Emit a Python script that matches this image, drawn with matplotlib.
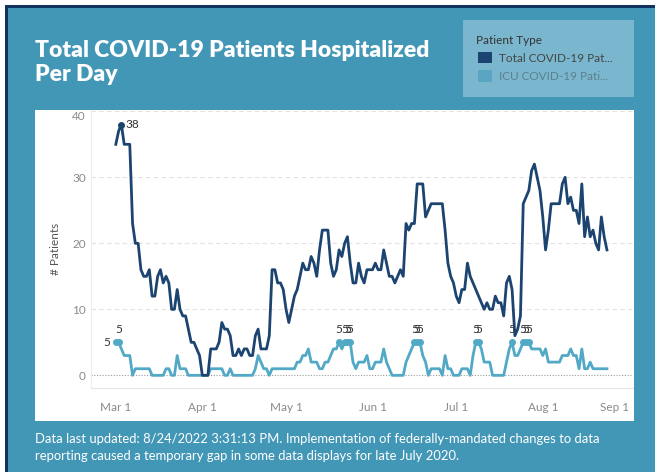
import matplotlib
matplotlib.use("Agg")
import matplotlib.pyplot as plt
from matplotlib.patches import Rectangle
import pandas as pd
import numpy as np

# daily values, Mar 1 - Aug 24
start_date = "2022-03-01"
total_patients = [
    35, 37, 38, 35, 35, 35, 23, 20, 20, 16,
    15, 15, 16, 12, 12, 15, 16, 14, 15, 14,
    10, 10, 13, 10, 9, 9, 7, 5, 5, 4,
    3, 0, 0, 0, 4, 4, 4, 5, 8, 7,
    7, 6, 3, 3, 4, 3, 4, 4, 3, 3,
    6, 7, 4, 4, 4, 6, 16, 16, 14, 14,
    13, 10, 8, 10, 12, 13, 15, 17, 16, 16,
    18, 17, 15, 19, 22, 22, 22, 17, 15, 16,
    19, 18, 20, 21, 17, 14, 14, 17, 15, 14,
    16, 16, 16, 17, 16, 16, 19, 17, 15, 15,
    14, 15, 16, 15, 23, 22, 23, 23, 29, 29,
    29, 24, 25, 26, 26, 26, 26, 26, 22, 17,
    15, 14, 12, 11, 13, 13, 17, 15, 14, 13,
    12, 11, 10, 11, 10, 10, 12, 11, 11, 9,
    14, 15, 13, 6, 7, 9, 26, 27, 28, 31,
    32, 30, 28, 24, 19, 22, 26, 26, 26, 26,
    29, 30, 26, 27, 25, 25, 23, 29, 21, 24,
    21, 22, 20, 19, 24, 21, 19,
]
icu_patients = [
    5, 5, 4, 3, 3, 3, 0, 1, 1, 1,
    1, 1, 1, 0, 0, 0, 0, 0, 1, 1,
    0, 0, 3, 1, 1, 1, 0, 0, 0, 0,
    0, 0, 0, 0, 1, 1, 1, 1, 1, 0,
    0, 1, 0, 0, 0, 0, 0, 0, 0, 0,
    1, 3, 2, 1, 1, 0, 1, 1, 1, 1,
    1, 1, 1, 1, 1, 2, 2, 3, 3, 4,
    2, 2, 2, 1, 1, 2, 2, 3, 4, 4,
    5, 4, 5, 5, 5, 2, 1, 2, 2, 2,
    3, 1, 1, 2, 2, 2, 4, 2, 1, 0,
    0, 0, 0, 0, 2, 3, 4, 5, 5, 5,
    3, 2, 0, 1, 1, 1, 1, 0, 3, 1,
    1, 0, 0, 0, 1, 1, 1, 0, 3, 5,
    5, 4, 2, 2, 2, 0, 0, 0, 0, 0,
    2, 4, 5, 3, 3, 4, 5, 5, 5, 4,
    4, 4, 4, 3, 4, 2, 2, 2, 2, 2,
    3, 3, 3, 4, 3, 3, 1, 4, 1, 1,
    2, 1, 1, 1, 1, 1, 1,
]
series_names = ["Total COVID-19 Pat...", "ICU COVID-19 Pati..."]
month_ticks = ["2022-03-01", "2022-04-01", "2022-05-01", "2022-06-01",
               "2022-07-01", "2022-08-01", "2022-09-01"]
month_labels = ["Mar 1", "Apr 1", "May 1", "Jun 1", "Jul 1", "Aug 1", "Sep 1"]
y_ticks = [0, 10, 20, 30, 40]

dates = pd.date_range(start_date, periods=len(total_patients), freq="D")

W, H = 655, 472
TEAL = "#4397b6"
NAVY = "#1b4470"
ICU_C = "#52a9c6"

plt.rcParams["font.family"] = ["Lato", "DejaVu Sans"]
fig = plt.figure(figsize=(W / 100, H / 100), dpi=100)
fig.patch.set_facecolor("white")

def px_rect(x0, y0, x1, y1, color, z=0):
    # rectangle in pixel coords, y from top
    fig.patches.append(Rectangle((x0 / W, 1 - y1 / H), (x1 - x0) / W, (y1 - y0) / H,
                                 transform=fig.transFigure, facecolor=color,
                                 edgecolor="none", zorder=z))

px_rect(5, 5, 655, 472, "#12325e")        # dark frame
px_rect(8, 8, 655, 472, TEAL)             # teal panel
px_rect(463, 20, 634, 97, "#7ab7ce")      # legend box
px_rect(35, 110, 634, 421, "white")       # chart card

# title + footer
fig.text(35 / W, 1 - 40 / H, "Total COVID-19 Patients Hospitalized\nPer Day",
         color="white", fontsize=16.5, fontweight="heavy", va="top", ha="left",
         linespacing=1.2)
fig.text(35 / W, 1 - 433 / H,
         "Data last updated: 8/24/2022 3:31:13 PM. Implementation of federally-mandated changes to data\n"
         "reporting caused a temporary gap in some data displays for late July 2020.",
         color="white", fontsize=9.4, va="top", ha="left", linespacing=1.5)

# legend
fig.text(476 / W, 1 - 40 / H, "Patient Type", color="#333333", fontsize=8.5, va="center")
px_rect(478, 52, 492, 63, NAVY, z=1)
px_rect(478, 70, 492, 82, "#5aa6c2", z=1)
fig.text(499 / W, 1 - 58 / H, series_names[0], color="#444444", fontsize=8.5, va="center")
fig.text(499 / W, 1 - 77 / H, series_names[1], color="#5d7f8d", fontsize=8.5, va="center")

ax = fig.add_axes([90.7 / W, 1 - 388 / H, (633 - 90.7) / W, (388 - 110) / H])
ax.set_zorder(5)
ax.set_facecolor("white")

ax.plot(dates, total_patients, color=NAVY, lw=2.0, zorder=3, solid_joinstyle="round")
ax.plot(dates, icu_patients, color=ICU_C, lw=2.0, zorder=2, solid_joinstyle="round")

# label max values like the dashboard
tmax = max(total_patients)
for d, v in zip(dates, total_patients):
    if v == tmax:
        ax.plot(d, v, "o", color=NAVY, ms=4, zorder=4)
        ax.annotate(str(v), (d, v), xytext=(3, 0), textcoords="offset points",
                    ha="left", va="center", fontsize=8.5, color="#333333")
imax = max(icu_patients)
first = True
for d, v in zip(dates, icu_patients):
    if v == imax:
        ax.plot(d, v, "o", color=ICU_C, ms=4, zorder=4)
        if first:
            ax.annotate(str(v), (d, v), xytext=(-4, 0), textcoords="offset points",
                        ha="right", va="center", fontsize=8.5, color="#333333")
            first = False
        else:
            ax.annotate(str(v), (d, v), xytext=(0, 5), textcoords="offset points",
                        ha="center", va="bottom", fontsize=8.5, color="#333333")

ax.set_xlim(pd.Timestamp("2022-02-20"), pd.Timestamp("2022-09-02 08:00"))
ax.set_ylim(-1.92, 40.2)
ax.set_yticks(y_ticks)
ax.set_yticklabels([str(t) for t in y_ticks])
ax.set_xticks(pd.to_datetime(month_ticks))
ax.set_xticklabels(month_labels)
ax.tick_params(axis="both", length=0, labelsize=8.5, labelcolor="#8a8a8a")
ax.tick_params(axis="x", pad=10)
ax.set_ylabel("# Patients", fontsize=8.5, color="#555555", labelpad=8)
# tableau nudges edge labels inside the pane
ax.get_yticklabels()[-1].set_va("top")
ax.get_xticklabels()[-1].set_ha("right")
ax.get_xticklabels()[-1].set_x(pd.Timestamp("2022-09-02 08:00").value)

for y in y_ticks[1:]:
    ax.axhline(y, color="#e2e2e2", lw=0.8, ls=(0, (4, 3)), zorder=1)
ax.axhline(0, color="#9a9a9a", lw=0.8, ls=(0, (1, 1.5)), zorder=1)

for s in ["top", "right"]:
    ax.spines[s].set_visible(False)
ax.spines["left"].set_color("#eeeeee")
ax.spines["bottom"].set_color("#e6e6e6")

fig.savefig("out.png", dpi=100)
